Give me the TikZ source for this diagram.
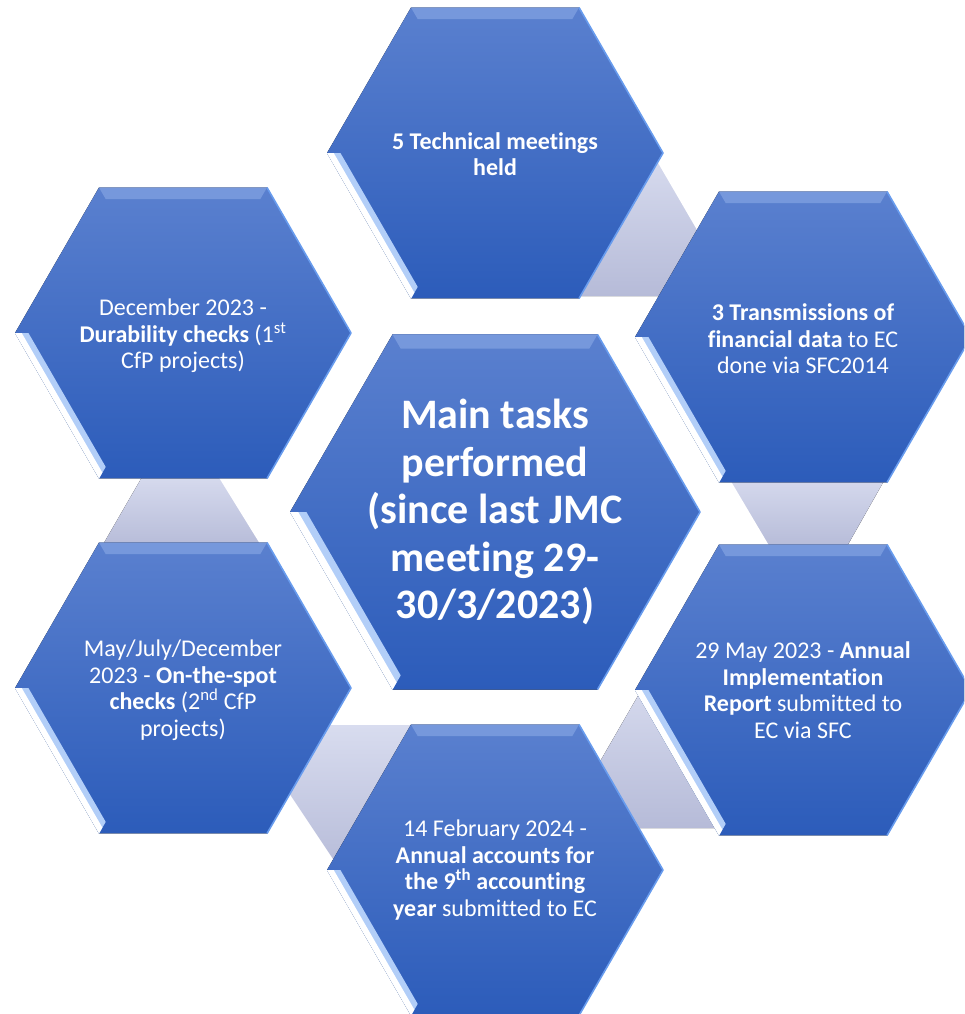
\documentclass[tikz,border=0pt]{standalone}
\usepackage{fontspec}
\setmainfont[Ligatures=NoCommon]{Carlito}
\usetikzlibrary{positioning}

\definecolor{hexTop}{RGB}{90,128,207}
\definecolor{hexBottom}{RGB}{44,92,186}
\definecolor{hexBevel}{RGB}{118,152,220}
\definecolor{hexGlow}{RGB}{178,206,248}
\definecolor{hexRim}{RGB}{104,156,238}
\definecolor{linkTop}{RGB}{216,220,239}
\definecolor{linkBottom}{RGB}{182,187,216}

\begin{document}
\begin{tikzpicture}[
  x=1pt, y=-1pt,
  hexbody/.style={top color=hexTop, bottom color=hexBottom},
  hextop/.style={fill=hexBevel},
  hexglow/.style={fill=hexGlow},
  hexrim/.style={draw=hexRim, line width=1.6pt, line join=round},
  link/.style={top color=linkTop, bottom color=linkBottom},
  linkglow/.style={draw=white, line width=2.5pt},
  cell/.style={text=white, align=center, font=\fontsize{24}{26.5}\selectfont},
  hub/.style={text=white, align=center, font=\fontsize{42}{47.5}\selectfont\bfseries}
]
\useasboundingbox (0,0) rectangle (964,1014);
\clip (0,0) rectangle (964,1014);
\fill[white] (0,0) rectangle (964,1014);

% Hexagon centres
\coordinate (hub) at (495,512);
\coordinate (top) at (495,154);
\coordinate (topright) at (803,339);
\coordinate (botright) at (803,690);
\coordinate (bot) at (495,870);
\coordinate (botleft) at (183,690);
\coordinate (topleft) at (183,336);

% Grey links between neighbouring cells (drawn first, partly hidden)
\fill[link] (652,150) -- (702,236) -- (680,296) -- (570,296) -- cycle;
\fill[link] (724,472) -- (889,472) -- (846,548) -- (769,548) -- cycle;
\fill[link] (145,472) -- (217,472) -- (264,548) -- (101,548) -- cycle;
\fill[link] (320,725) -- (412,725) -- (340,872) -- (270,767) -- cycle;
\fill[link] (650,675) -- (598,765) -- (630,828) -- (725,828) -- cycle;
\draw[linkglow] (652,150) -- (702,236);
\draw[linkglow] (724,472) -- (769,548);
\draw[linkglow] (217,472) -- (264,548);
\draw[linkglow] (270,767) -- (340,872);
\draw[linkglow] (598,765) -- (630,828);

% Hexagon cells
\foreach \cx/\cy/\rad in {495/153/168, 803/337/168, 803/690/168, 495/870/168,
                          183/688/168, 183/333/168, 495/512/205}{
  \begin{scope}[shift={(\cx,\cy)}, x=\rad pt, y=\rad pt]
    \fill[hexbody] (-1,0) -- (-0.5,0.866) -- (0.5,0.866) -- (1,0)
      -- (0.5,-0.866) -- (-0.5,-0.866) -- cycle;
    \fill[hextop] (-0.5,0.866) -- (0.5,0.866) -- (0.46,0.797) -- (-0.46,0.797) -- cycle;
    \fill[hexglow] (-1,0) -- (-0.5,-0.866) -- (-0.46,-0.797) -- (-0.92,0) -- cycle;
    \fill[white] (-1,0) -- (-0.5,-0.866) -- (-0.48,-0.831) -- (-0.96,0) -- cycle;
    \draw[hexrim] (0.5,0.866) -- (1,0) -- (0.5,-0.866);
  \end{scope}
}

% Texts
\node[hub] (tasks) at (hub) {Main tasks\\performed\\(since last JMC\\meeting 29-\\30/3/2023)};
\node[cell] (meetings) at (top) {\textbf{5 Technical meetings}\\\textbf{held}};
\node[cell] (transmissions) at (topright) {\textbf{3 Transmissions of}\\\textbf{financial data} to EC\\done via SFC2014};
\node[cell] (report) at (botright) {29 May 2023 - \textbf{Annual}\\\textbf{Implementation}\\\textbf{Report} submitted to\\EC via SFC};
\node[cell] (accounts) at (bot) {14 February 2024 -\\\textbf{Annual accounts for}\\\textbf{the 9\textsuperscript{th} accounting}\\\textbf{year} submitted to EC};
\node[cell] (spotchecks) at (botleft) {May/July/December\\2023 - \textbf{On-the-spot}\\\textbf{checks} (2\textsuperscript{nd} CfP\\projects)};
\node[cell] (durability) at (topleft) {December 2023 -\\\textbf{Durability checks} (1\textsuperscript{st}\\CfP projects)};

\end{tikzpicture}
\end{document}
